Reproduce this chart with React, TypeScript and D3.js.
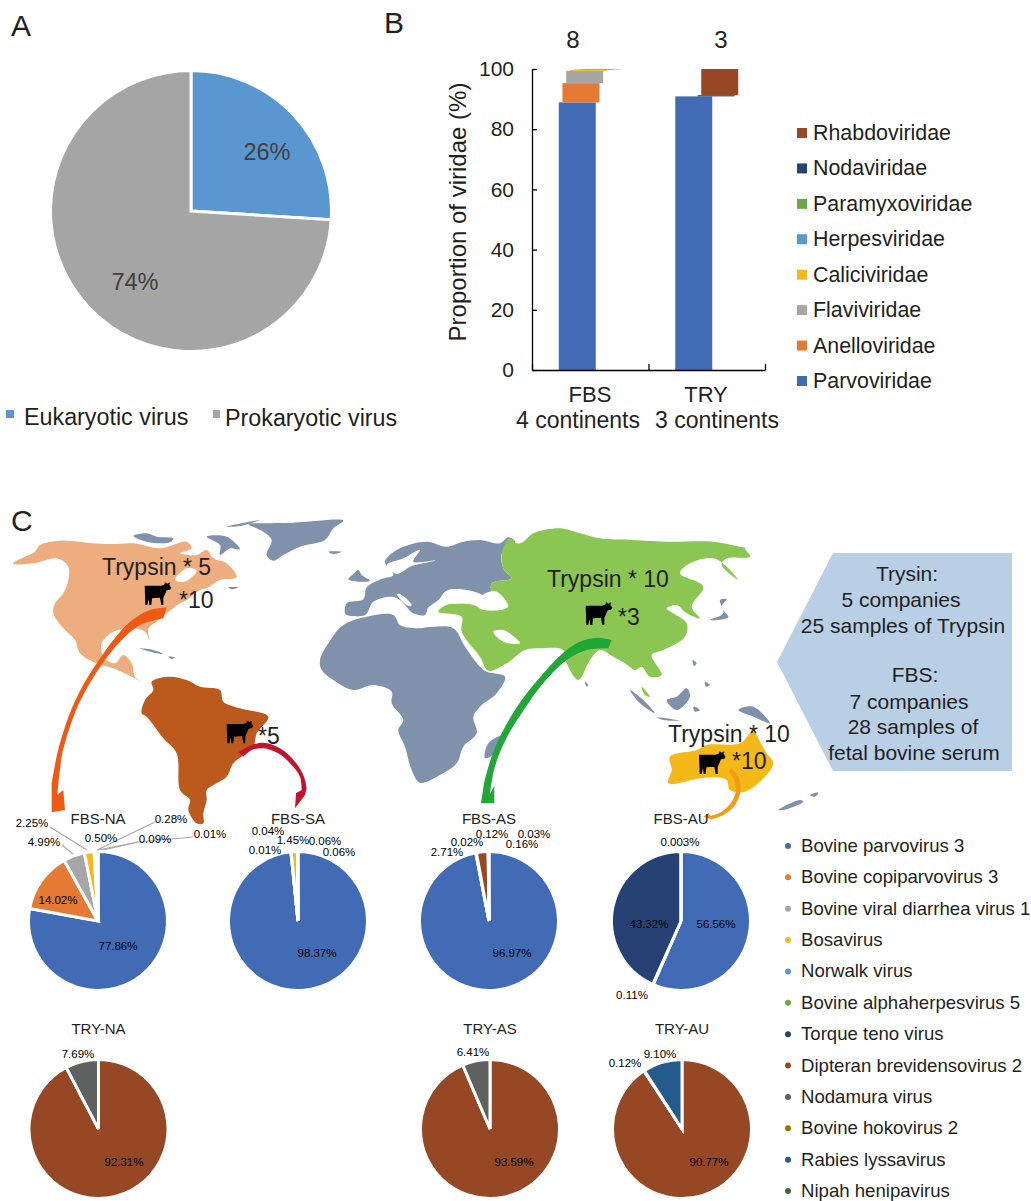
import React, { useRef, useEffect } from "react";
import * as d3 from "d3";

const FONT = "Liberation Sans, Arial, sans-serif";
const INK = "#231f20";

type Pt = [number, number];

// panel A
const kingdomLabels = ["Eukaryotic virus", "Prokaryotic virus"];
const kingdomValues = [26, 74];
const kingdomColors = ["#5a96cf", "#a5a5a5"];

// panel B
const barCategories = ["FBS", "TRY"];
const barSubLabels = ["4 continents", "3 continents"];
const barTopLabels = ["8", "3"];
const families = ["Parvoviridae", "Anelloviridae", "Flaviviridae", "Caliciviridae", "Herpesviridae", "Paramyxoviridae", "Nodaviridae", "Rhabdoviridae"];
const familyColors = ["#416bb4", "#e57a34", "#a6a6a6", "#f4b81c", "#5a96cf", "#6aa844", "#264274", "#964824"];
const fbsFamilyValues = [88.9, 6.4, 4.1, 0.3, 0.1, 0.1, 0.05, 0.05];
const tryFamilyValues = [90.9, 0, 0, 0, 0, 0, 0.4, 8.7];

// panel C
const species = ["Bovine parvovirus 3", "Bovine copiparvovirus 3", "Bovine viral diarrhea virus 1", "Bosavirus", "Norwalk virus", "Bovine alphaherpesvirus 5", "Torque teno virus", "Dipteran brevidensovirus 2", "Nodamura virus", "Bovine hokovirus 2", "Rabies lyssavirus", "Nipah henipavirus"];
const speciesColors = ["#416bb4", "#e57a34", "#a6a6a6", "#f4b81c", "#5a96cf", "#6aa844", "#264274", "#964824", "#5f6160", "#997300", "#255a8c", "#43682b"];
const fbsNa = [77.86, 14.02, 4.99, 2.25, 0.5, 0.28, 0.09, 0.01, 0, 0, 0, 0];
const fbsSa = [98.37, 0.01, 0.04, 1.45, 0, 0, 0.06, 0.06, 0, 0, 0, 0];
const fbsAs = [96.97, 0, 0.02, 0, 0, 0, 0.12, 2.71, 0.03, 0.16, 0, 0];
const fbsAu = [56.56, 0, 0.11, 0, 0, 0, 43.32, 0.003, 0, 0, 0, 0];
const tryNa = [0, 0, 0, 0, 0, 0, 0, 92.31, 7.69, 0, 0, 0];
const tryAs = [0, 0, 0, 0, 0, 0, 0, 93.59, 6.41, 0, 0, 0];
const tryAu = [0, 0, 0, 0, 0, 0, 0, 90.77, 0, 0.12, 9.1, 0];

const pies: [string, number[], number, number][] = [
  ["FBS-NA", fbsNa, 98, 921],
  ["FBS-SA", fbsSa, 298, 921],
  ["FBS-AS", fbsAs, 489, 921],
  ["FBS-AU", fbsAu, 681, 921],
  ["TRY-NA", tryNa, 98.5, 1129],
  ["TRY-AS", tryAs, 490, 1129],
  ["TRY-AU", tryAu, 682, 1129],
];

// percent labels placed by hand, like the original figure
const pieLabels: [string, number, number][] = [
  ["2.25%", 32, 823], ["4.99%", 44, 842], ["0.50%", 101, 838], ["0.28%", 171, 819], ["0.09%", 155, 839], ["0.01%", 210, 834],
  ["14.02%", 58, 900], ["77.86%", 118, 946],
  ["0.04%", 268, 831], ["0.01%", 265, 850], ["1.45%", 293, 840], ["0.06%", 325, 841], ["0.06%", 339, 852], ["98.37%", 317, 953],
  ["0.12%", 492, 834], ["0.03%", 534, 834], ["0.02%", 467, 842], ["0.16%", 522, 844], ["2.71%", 447, 852], ["96.97%", 512, 953],
  ["0.003%", 680, 842], ["56.56%", 716, 924], ["43.32%", 649, 924], ["0.11%", 632, 995],
  ["7.69%", 78, 1054], ["92.31%", 124, 1162], ["6.41%", 473, 1052], ["93.59%", 514, 1162],
  ["9.10%", 660, 1054], ["0.12%", 625, 1063], ["90.77%", 709, 1162],
];

const leaders: Pt[][] = [
  [[50, 827], [87, 850]],
  [[62, 845], [73, 854]],
  [[155, 822], [128, 835], [97, 850]],
  [[138, 842], [98, 850]],
  [[193, 837], [138, 842], [99, 851]],
];

// map outlines, in 3x figure units (x * 3, (y - 500) * 3)
const landBlue: Pt[][] = [
  [[745, 72], [790, 70], [880, 68], [1030, 62], [1000, 85], [975, 120], [900, 140], [850, 165], [820, 182], [800, 165], [815, 120], [790, 95]],
  [[985, 155], [1025, 155], [1000, 162]],
  [[400, 108], [440, 100], [470, 110], [520, 115], [510, 127], [440, 125]],
  [[620, 110], [680, 110], [720, 148], [690, 145], [660, 165], [660, 135]],
  [[680, 80], [780, 60], [720, 78]],
  [[685, 262], [715, 262], [695, 268]],
  [[420, 445], [460, 450], [490, 462], [450, 455]],
  [[505, 470], [525, 472], [515, 477]],
  // Europe
  [[1035, 340], [1040, 310], [1090, 298], [1100, 262], [1145, 237], [1180, 225], [1155, 185], [1200, 145], [1280, 125], [1340, 140], [1390, 125], [1440, 120], [1500, 130], [1525, 112], [1545, 125], [1505, 160], [1512, 210], [1535, 235], [1475, 250], [1480, 290], [1515, 325], [1460, 290], [1400, 270], [1340, 272], [1315, 300], [1285, 322], [1275, 345], [1240, 340], [1200, 300], [1175, 290], [1120, 305], [1095, 345], [1040, 345]],
  [[1045, 238], [1060, 222], [1075, 210], [1085, 225], [1110, 242], [1075, 245]],
  // Africa
  [[960, 480], [985, 430], [1030, 375], [1100, 350], [1180, 345], [1200, 375], [1250, 385], [1300, 380], [1360, 385], [1395, 440], [1440, 500], [1460, 515], [1515, 530], [1490, 580], [1440, 620], [1420, 650], [1430, 700], [1390, 740], [1370, 790], [1320, 825], [1260, 848], [1235, 810], [1215, 740], [1195, 690], [1210, 660], [1175, 610], [1175, 575], [1120, 555], [1060, 570], [1000, 540], [965, 510]],
  [[1455, 775], [1465, 730], [1505, 708], [1485, 760]],
  // Asia islands
  [[2000, 600], [2030, 590], [2060, 565], [2070, 590], [2030, 630]],
  [[1890, 570], [1930, 600], [1965, 640], [1920, 610]],
  [[1970, 652], [2040, 662], [1990, 660]],
  [[2215, 630], [2260, 620], [2310, 670], [2260, 650]],
  [[2078, 480], [2090, 490], [2082, 498]],
  [[2115, 545], [2130, 555], [2118, 560]],
  [[2080, 620], [2100, 630], [2085, 635]],
  [[2160, 300], [2180, 298], [2165, 320], [2185, 352], [2130, 360], [2170, 340]],
  [[1755, 545], [1765, 555], [1760, 560]],
  [[2335, 930], [2400, 900], [2410, 905], [2350, 930]],
  [[2430, 885], [2455, 878], [2445, 890]],
];

const landNa: Pt[] = [[40, 188], [75, 170], [105, 155], [120, 135], [180, 122], [260, 128], [330, 132], [400, 130], [480, 145], [560, 125], [575, 145], [540, 160], [590, 165], [620, 150], [640, 175], [680, 190], [710, 232], [660, 240], [620, 265], [600, 270], [560, 300], [540, 310], [500, 340], [470, 365], [445, 385], [448, 420], [435, 395], [400, 385], [340, 395], [305, 430], [310, 470], [345, 490], [370, 465], [395, 490], [405, 530], [425, 545], [385, 525], [340, 505], [290, 490], [240, 460], [225, 420], [190, 385], [160, 340], [165, 310], [190, 280], [205, 240], [205, 200], [170, 175], [100, 190], [40, 192]];
const landSa: Pt[] = [[455, 545], [505, 530], [560, 540], [600, 560], [660, 570], [670, 605], [720, 625], [805, 650], [770, 700], [760, 740], [700, 790], [680, 830], [640, 855], [620, 870], [620, 900], [610, 940], [610, 970], [590, 970], [565, 930], [570, 900], [540, 870], [530, 760], [490, 715], [440, 650], [425, 640], [435, 600], [460, 570]];
const landAsia: Pt[] = [[1505, 160], [1530, 115], [1550, 130], [1570, 125], [1600, 100], [1680, 85], [1740, 100], [1800, 115], [1900, 120], [2000, 125], [2140, 125], [2220, 140], [2280, 150], [2235, 145], [2250, 170], [2180, 175], [2165, 195], [2215, 240], [2180, 200], [2140, 175], [2070, 190], [2040, 220], [2110, 260], [2075, 320], [2100, 355], [2060, 340], [2030, 315], [2000, 325], [2020, 340], [2060, 370], [2055, 410], [1990, 450], [1955, 465], [1985, 525], [1950, 530], [1925, 500], [1905, 510], [1875, 490], [1840, 470], [1800, 450], [1770, 480], [1735, 540], [1700, 490], [1690, 450], [1620, 445], [1575, 450], [1520, 490], [1465, 512], [1440, 470], [1385, 395], [1385, 350], [1315, 335], [1340, 315], [1420, 315], [1450, 330], [1515, 325], [1480, 290], [1475, 250], [1535, 235], [1512, 210]];
const landMalay: Pt[] = [[1925, 560], [1950, 590], [1935, 585]];
const landAu: Pt[] = [[2010, 770], [2090, 750], [2120, 735], [2220, 730], [2260, 692], [2280, 725], [2300, 760], [2320, 790], [2290, 835], [2235, 875], [2190, 870], [2180, 840], [2150, 832], [2100, 835], [2005, 850], [2015, 810]];
// inland water
const waterShapes: Pt[][] = [
  [[1450, 285], [1490, 275], [1525, 320], [1480, 325]],
  [[1480, 395], [1510, 390], [1560, 430], [1510, 425]],
  [[1330, 298], [1390, 272], [1425, 300], [1350, 310]],
  [[1160, 195], [1210, 175], [1260, 150], [1240, 185], [1305, 182], [1235, 198], [1190, 222]],
  [[1190, 283], [1200, 282], [1235, 315], [1225, 318]],
  [[525, 240], [560, 205], [590, 212], [555, 245]],
];

// arrows: one edge, the head, the other edge
const arrows: { color: string; edgeA: Pt[]; head: Pt[]; edgeB: Pt[] }[] = [
  {
    color: "#ee5a14",
    edgeA: [[500, 322], [445, 332], [390, 365], [340, 420], [297, 480], [255, 545], [222, 610], [195, 680], [172, 760], [155, 850]],
    head: [[155, 937], [195, 930], [190, 870]],
    edgeB: [[172, 885], [187, 760], [210, 680], [237, 610], [272, 545], [315, 480], [360, 425], [420, 375], [490, 355]],
  },
  {
    color: "#c4122b",
    edgeA: [[715, 757], [750, 737], [790, 728], [840, 745], [885, 785], [912, 830], [920, 865]],
    head: [[915, 885], [885, 925], [888, 880]],
    edgeB: [[905, 870], [900, 830], [875, 795], [835, 760], [790, 745], [755, 750], [730, 770]],
  },
  {
    color: "#21a638",
    edgeA: [[1835, 420], [1790, 413], [1740, 425], [1690, 458], [1600, 555], [1550, 622], [1505, 700], [1473, 775], [1452, 850]],
    head: [[1443, 910], [1483, 910], [1483, 858]],
    edgeB: [[1470, 882], [1482, 810], [1505, 745], [1530, 695], [1575, 625], [1625, 555], [1700, 480], [1760, 450], [1825, 445]],
  },
  {
    color: "#f39c12",
    edgeA: [[2192, 803], [2215, 830], [2222, 870], [2205, 915], [2170, 945], [2135, 958]],
    head: [[2110, 950], [2127, 938]],
    edgeB: [[2130, 948], [2165, 935], [2195, 905], [2208, 870], [2200, 835], [2188, 815]],
  },
];

const cowPath = "M2,12L50,12L60,10L64,2L70,6L78,2L76,10L82,18L78,24L68,26L62,40L58,48L58,70L52,70L48,48L24,50L22,70L16,70L14,52L10,70L4,70L3,40Z";
const cows: Pt[] = [[432, 245], [678, 660], [1755, 305], [2095, 752]];

const mapTexts: [string, number, number][] = [
  ["Trypsin * 5", 102, 575], ["*10", 179, 608], ["*5", 258, 744],
  ["Trypsin * 10", 547, 587], ["*3", 618, 625],
  ["Trypsin * 10", 668, 742], ["*10", 732, 769],
];

const noteLines: [string, number, number][] = [
  ["Trysin:", 907, 581], ["5 companies", 901, 607], ["25 samples of Trypsin", 903, 633],
  ["FBS:", 915, 682], ["7 companies", 909, 709], ["28 samples of", 913, 734], ["fetal bovine serum", 914, 760],
];

const App: React.FC = () => {
  const svgRef = useRef<SVGSVGElement>(null);

  useEffect(() => {
    if (!svgRef.current) return;
    const svg = d3.select(svgRef.current);
    svg.selectAll("*").remove();
    svg.style("font-family", FONT);

    const addText = (t: string, x: number, y: number, size: number, anchor = "start", fill = INK) =>
      svg.append("text").attr("x", x).attr("y", y).attr("font-size", size).attr("text-anchor", anchor).attr("fill", fill).text(t);

    addText("A", 11, 36, 30);
    addText("B", 384, 33, 30);
    addText("C", 11, 531, 30);

    // panel A
    const pieA = d3.pie<number>().sort(null);
    const arcA = d3.arc<d3.PieArcDatum<number>>().innerRadius(0).outerRadius(140.5);
    const gA = svg.append("g").attr("transform", "translate(191,211)");
    gA.selectAll("path").data(pieA(kingdomValues)).join("path")
      .attr("d", arcA)
      .attr("fill", (_, i) => kingdomColors[i])
      .attr("stroke", "#fff")
      .attr("stroke-width", 3);
    addText("26%", 267, 160, 23.5, "middle", "#404040");
    addText("74%", 135, 290, 23.5, "middle", "#404040");
    addText(kingdomLabels[0], 24, 425, 23.3);
    addText(kingdomLabels[1], 225, 426, 23.3);
    svg.append("rect").attr("x", 6).attr("y", 410).attr("width", 8).attr("height", 8).attr("fill", kingdomColors[0]);
    svg.append("rect").attr("x", 213).attr("y", 410).attr("width", 7).attr("height", 8).attr("fill", kingdomColors[1]);

    // panel B: overlapped clustered columns drawn as a staggered stack
    const y = d3.scaleLinear().domain([0, 100]).range([370, 69]);
    const xEdges = d3.scaleLinear().domain([0, barCategories.length]).range([532, 765]);
    const x = d3.scaleBand().domain(barCategories).range([532, 765]);
    const offset = d3.scalePoint<string>().domain(families).range([0, 26]);
    const barWidth = 37;
    const barColumns = [fbsFamilyValues, tryFamilyValues];

    barCategories.forEach((cat, c) => {
      const stacked = d3.cumsum(barColumns[c]);
      const left = (x(cat) as number) + (x.bandwidth() - barWidth - 26) / 2;
      families.forEach((fam, i) => {
        if (barColumns[c][i] <= 0) return;
        svg.append("rect")
          .attr("x", left + (offset(fam) as number))
          .attr("y", y(stacked[i]))
          .attr("width", barWidth)
          .attr("height", y(stacked[i] - barColumns[c][i]) - y(stacked[i]))
          .attr("fill", familyColors[i]);
      });
    });

    const yAxis = d3.axisLeft(y).tickValues([0, 20, 40, 60, 80, 100]).tickSizeInner(-5).tickSizeOuter(0).tickPadding(18);
    const gy = svg.append("g").attr("transform", "translate(532,0)").call(yAxis);
    gy.selectAll("text").attr("font-size", 21).attr("font-family", FONT).attr("fill", INK);
    gy.selectAll("line,path").attr("stroke", "#000").attr("stroke-width", 1.3);
    const xAxis = d3.axisBottom(xEdges).tickValues([0, 1, 2]).tickSizeInner(-6).tickSizeOuter(0).tickFormat(() => "");
    const gx = svg.append("g").attr("transform", "translate(0,370)").call(xAxis);
    gx.selectAll("line,path").attr("stroke", "#000").attr("stroke-width", 1.3);

    svg.append("text")
      .attr("transform", "translate(466,212) rotate(-90)")
      .attr("text-anchor", "middle")
      .attr("font-size", 24)
      .attr("fill", INK)
      .text("Proportion of viridae (%)");

    const catCenters = [590, 706];
    const subCenters = [578, 717];
    barCategories.forEach((cat, c) => {
      addText(cat, catCenters[c], 402, 22, "middle");
      addText(barSubLabels[c], subCenters[c], 428, 23, "middle");
      addText(barTopLabels[c], c === 0 ? 573 : 721, 48, 24, "middle");
    });

    const legendB = d3.scaleLinear().domain([0, 7]).range([381, 133]);
    families.forEach((fam, i) => {
      svg.append("rect").attr("x", 797).attr("y", legendB(i) - 5).attr("width", 10).attr("height", 10).attr("fill", familyColors[i]);
      addText(fam, 813, legendB(i) + 7, 21.4);
    });

    // map
    const mapX = d3.scaleLinear().domain([0, 3]).range([0, 1]);
    const mapY = d3.scaleLinear().domain([0, 3]).range([500, 501]);
    const landLine = d3.line<Pt>().x((d) => mapX(d[0])).y((d) => mapY(d[1])).curve(d3.curveCatmullRomClosed.alpha(0.5));
    const edgeLine = d3.line<Pt>().x((d) => mapX(d[0])).y((d) => mapY(d[1])).curve(d3.curveCatmullRom.alpha(0.5));
    const drawLand = (pts: Pt[], fill: string) =>
      svg.append("path").attr("d", landLine(pts)).attr("fill", fill);

    landBlue.forEach((p) => drawLand(p, "#8091ab"));
    drawLand(landNa, "#edad7f");
    drawLand(landSa, "#bc5a1e");
    drawLand(landAsia, "#8bc653");
    drawLand(landMalay, "#8bc653");
    drawLand(landAu, "#f4b818");
    waterShapes.forEach((p) => drawLand(p, "#fff"));

    svg.append("path")
      .attr("d", "M777,662L833,553L1012,553L1012,771L833,771Z")
      .attr("fill", "#b8cfe6");

    arrows.forEach(({ color, edgeA, head, edgeB }) => {
      const headPart = head.map((p) => `L${mapX(p[0])},${mapY(p[1])}`).join("");
      const d = `${edgeLine(edgeA)}${headPart}L${(edgeLine(edgeB) as string).slice(1)}Z`;
      svg.append("path").attr("d", d).attr("fill", color);
    });
    cows.forEach(([cx, cy]) => {
      svg.append("path").attr("d", cowPath).attr("fill", "#000").attr("transform", `translate(${mapX(cx)},${mapY(cy)}) scale(0.3333)`);
    });
    mapTexts.forEach(([t, tx, ty]) => addText(t, tx, ty, 23));
    noteLines.forEach(([t, tx, ty]) => addText(t, tx, ty, 21, "middle"));

    // pies
    const pie = d3.pie<number>().sort(null);
    const arc = d3.arc<d3.PieArcDatum<number>>().innerRadius(0).outerRadius(69.5);
    leaders.forEach((pts) => {
      svg.append("path")
        .attr("d", d3.line()(pts))
        .attr("fill", "none")
        .attr("stroke", "#a6a6a6")
        .attr("stroke-width", 1.2);
    });
    pies.forEach(([name, values, cx, cy]) => {
      const g = svg.append("g").attr("transform", `translate(${cx},${cy})`);
      g.selectAll("path").data(pie(values)).join("path")
        .attr("d", arc)
        .attr("fill", (_, i) => speciesColors[i])
        .attr("stroke", "#fff")
        .attr("stroke-width", 3)
        .attr("display", (d) => (d.value > 0 ? null : "none"));
      addText(name, cx, name.startsWith("FBS") ? 824 : 1034, 15, "middle");
    });
    pieLabels.forEach(([t, lx, ly]) => addText(t, lx, ly + 4, 11.5, "middle", "#000"));

    // species legend
    const legendC = d3.scaleLinear().domain([0, 11]).range([846, 1191]);
    species.forEach((s, i) => {
      svg.append("circle").attr("cx", 788).attr("cy", legendC(i)).attr("r", 3).attr("fill", speciesColors[i]);
      addText(s, 801, legendC(i) + 6, 18.6);
    });
  }, []);

  return (
    <div>
      <svg ref={svgRef} width={1031} height={1201} style={{ position: "absolute", left: 0, top: 0, display: "block" }} />
    </div>
  );
};

export default App;
